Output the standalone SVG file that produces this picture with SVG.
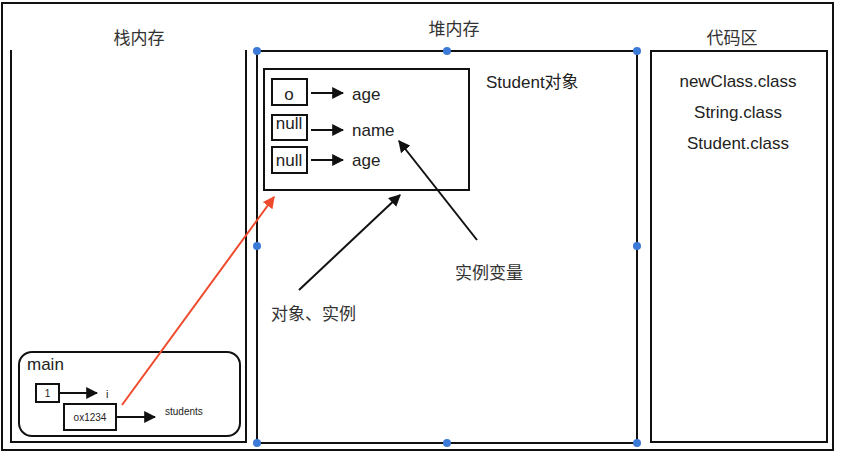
<svg xmlns="http://www.w3.org/2000/svg" width="844" height="458" viewBox="0 0 844 458">
<style>
.f{fill:none;stroke:#111;stroke-width:2}
.t{font-family:"Liberation Sans","Noto Sans CJK SC",sans-serif;fill:#222}
.c{font-family:"Noto Sans CJK SC","Liberation Sans",sans-serif;fill:#333}
.dot{fill:#3b7ad6}
.a{stroke:#111;stroke-width:2;fill:none;marker-end:url(#ah)}
</style>
<defs>
<marker id="ah" viewBox="0 0 10 10" refX="9" refY="5" markerWidth="6" markerHeight="6" orient="auto" markerUnits="strokeWidth"><path d="M0,0 L10,5 L0,10 z" fill="#111"/></marker>
<marker id="ahr" viewBox="0 0 10 10" refX="9" refY="5" markerWidth="6" markerHeight="6" orient="auto" markerUnits="strokeWidth"><path d="M0,0 L10,5 L0,10 z" fill="#ee4a2b"/></marker>
</defs>
<rect width="844" height="458" fill="#fff"/>
<rect id="outer" class="f" x="2" y="3" width="831" height="447"/>
<g id="stack">
<path class="f" d="M11,50 V442 H246 V50"/>
<text class="c" x="139" y="44" font-size="17" text-anchor="middle">栈内存</text>
</g>
<g id="heap">
<rect class="f" x="257" y="51" width="380" height="392"/>
<text class="c" x="454" y="35" font-size="17" text-anchor="middle">堆内存</text>
<g class="dot">
<circle cx="257" cy="51" r="4"/><circle cx="447" cy="51" r="4"/><circle cx="637" cy="51" r="4"/>
<circle cx="257" cy="246" r="4"/><circle cx="637" cy="246" r="4"/>
<circle cx="257" cy="443" r="4"/><circle cx="447" cy="443" r="4"/><circle cx="637" cy="443" r="4"/>
</g>
</g>
<g id="code">
<rect class="f" x="651" y="51" width="176" height="391"/>
<text class="c" x="732" y="44" font-size="17" text-anchor="middle">代码区</text>
<text class="t" x="738" y="87" font-size="17" text-anchor="middle">newClass.class</text>
<text class="t" x="738" y="118" font-size="17" text-anchor="middle">String.class</text>
<text class="t" x="738" y="149" font-size="17" text-anchor="middle">Student.class</text>
</g>
<g id="student">
<rect class="f" x="264" y="69" width="205" height="121"/>
<text class="t" x="486" y="88" font-size="17">Student对象</text>
<rect class="f" x="272" y="79" width="35" height="26"/>
<text class="t" x="289" y="100" font-size="17" text-anchor="middle">o</text>
<rect class="f" x="272" y="115" width="35" height="25"/>
<text class="t" x="289" y="129" font-size="17" text-anchor="middle">null</text>
<rect class="f" x="272" y="147" width="35" height="26"/>
<text class="t" x="289" y="166" font-size="17" text-anchor="middle">null</text>
<text class="t" x="352" y="100" font-size="17">age</text>
<text class="t" x="352" y="136" font-size="17">name</text>
<text class="t" x="352" y="166" font-size="17">age</text>
</g>
<g id="main">
<rect class="f" x="19" y="352" width="221" height="84" rx="13"/>
<text class="t" x="27" y="370" font-size="17">main</text>
<rect class="f" x="36" y="384" width="23" height="18"/>
<text class="t" x="47.5" y="397" font-size="10" text-anchor="middle">1</text>
<text class="t" x="106" y="398" font-size="11">i</text>
<rect class="f" x="64" y="404" width="52" height="26"/>
<text class="t" x="90" y="421" font-size="10" text-anchor="middle">ox1234</text>
<text class="t" x="165" y="415" font-size="10">students</text>
</g>
<g id="label1"><text class="c" x="455" y="279" font-size="17">实例变量</text></g>
<g id="label2"><text class="c" x="271" y="320" font-size="17">对象、实例</text></g>
<g id="connectors">
<line class="a" x1="311" y1="93" x2="343" y2="93"/>
<line class="a" x1="311" y1="130" x2="343" y2="130"/>
<line class="a" x1="311" y1="160" x2="343" y2="160"/>
<line class="a" x1="477" y1="240" x2="399" y2="141"/>
<line class="a" x1="299" y1="290" x2="400" y2="195"/>
<line class="a" x1="59" y1="393" x2="97" y2="393"/>
<line class="a" x1="116" y1="417" x2="155" y2="417"/>
<line x1="122" y1="405" x2="274" y2="197" stroke="#ee4a2b" stroke-width="2" marker-end="url(#ahr)"/>
</g>
</svg>
